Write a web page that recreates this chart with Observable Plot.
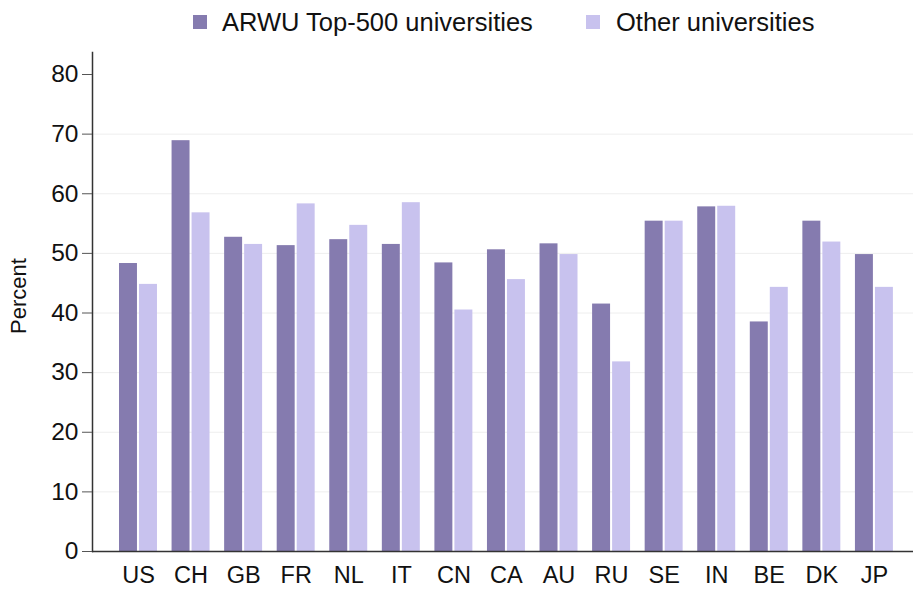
<!DOCTYPE html>
<html>
<head>
<meta charset="utf-8">
<script src="https://cdn.jsdelivr.net/npm/d3@7"></script>
<script src="https://cdn.jsdelivr.net/npm/@observablehq/plot@0.6"></script>
<style>
  html, body { margin: 0; padding: 0; background: #fff; }
  body { width: 913px; height: 589px; overflow: hidden; font-family: "Liberation Sans", Arial, sans-serif; }
  #legend { position: relative; height: 45px; width: 913px; }
  .sw { position: absolute; top: 15px; width: 14px; height: 14px; }
  .lt { position: absolute; top: 8px; font-size: 25.5px; line-height: 28px; color: #111; white-space: nowrap; }
</style>
</head>
<body>
<div id="legend">
  <div class="sw" style="left:193px;background:#857baf"></div>
  <div class="lt" style="left:222px">ARWU Top-500 universities</div>
  <div class="sw" style="left:586px;background:#c8c2ee"></div>
  <div class="lt" style="left:616px">Other universities</div>
</div>
<div id="chart"></div>
<script>
const countries = ["US","CH","GB","FR","NL","IT","CN","CA","AU","RU","SE","IN","BE","DK","JP"];
const top500 = [48.3, 68.9, 52.7, 51.3, 52.3, 51.5, 48.4, 50.6, 51.6, 41.5, 55.4, 57.8, 38.5, 55.4, 49.8];
const others = [44.8, 56.8, 51.5, 58.3, 54.7, 58.5, 40.5, 45.6, 49.8, 31.8, 55.4, 57.9, 44.3, 51.9, 44.3];
const yTicks = [0, 10, 20, 30, 40, 50, 60, 70, 80];
const gridTicks = [10, 20, 30, 40, 50, 60, 70];

const darkColor = "#857baf";
const lightColor = "#c8c2ee";

const dataTop = countries.map((c, i) => ({country: c, value: top500[i]}));
const dataOther = countries.map((c, i) => ({country: c, value: others[i]}));

const chart = Plot.plot({
  width: 913,
  height: 544,
  marginTop: 7,
  marginBottom: 38,
  marginLeft: 92,
  marginRight: 0,
  style: {fontFamily: "Liberation Sans, Arial, sans-serif", color: "#111", background: "#fff"},
  x: {domain: countries, range: [111.7, 900.2], padding: 0, round: false},
  y: {domain: [0, 80], range: [506, 29]},
  marks: [
    Plot.ruleY(gridTicks, {stroke: "#eeeeee", strokeWidth: 1}),
    Plot.barY(dataTop, {x: "country", y: "value", fill: darkColor, insetLeft: 7.3, insetRight: 27.3}),
    Plot.barY(dataOther, {x: "country", y: "value", fill: lightColor, insetLeft: 27.3, insetRight: 7.3}),
    Plot.ruleY([0], {stroke: "#333", strokeWidth: 1.5}),
    Plot.frame({anchor: "left", stroke: "#333", strokeWidth: 1.5}),
    Plot.axisY(yTicks, {tickSize: 10, tickPadding: 4, fontSize: 24.5, label: null, stroke: "#555"}),
    Plot.axisX({tickSize: 0, tickPadding: 15, fontSize: 23.5, label: null}),
    Plot.text(["Percent"], {frameAnchor: "left", dx: -74, dy: -6, rotate: -90, fontSize: 22, fill: "#111", textAnchor: "middle", lineAnchor: "middle"})
  ]
});
document.getElementById("chart").appendChild(chart);
</script>
</body>
</html>
